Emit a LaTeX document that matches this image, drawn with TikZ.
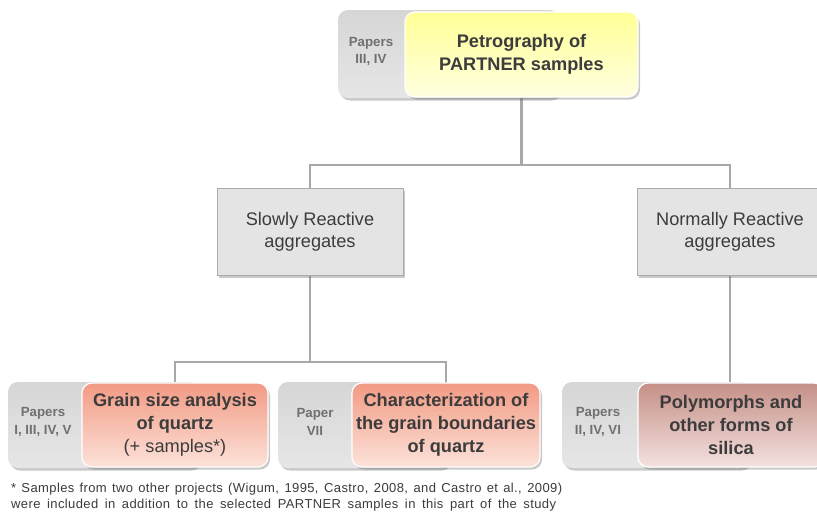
\documentclass[tikz,border=0pt]{standalone}
\usepackage{fontspec}
\setmainfont{Liberation Sans}
\newfontfamily\fnfont[LetterSpace=3]{Liberation Sans}
\usetikzlibrary{shadows}
\definecolor{txt}{HTML}{3C3C3C}
\definecolor{ptxt}{HTML}{707070}
\definecolor{conncol}{HTML}{A8A8A8}
\definecolor{backA}{HTML}{D6D6D6}
\definecolor{backB}{HTML}{E6E6E6}
\definecolor{yelA}{HTML}{FFFF96}
\definecolor{yelB}{HTML}{FFFFE0}
\definecolor{salA}{HTML}{F29A84}
\definecolor{salB}{HTML}{FCE2D9}
\definecolor{brnA}{HTML}{C58F87}
\definecolor{brnB}{HTML}{F3E2DF}
\definecolor{midfill}{HTML}{E4E4E4}
\definecolor{midline}{HTML}{ABABAB}
\tikzset{
  shad/.style={drop shadow={shadow xshift=2pt,shadow yshift=-2.5pt,opacity=0.35,fill=black!60}},
  backbox/.style={rounded corners=10pt,top color=backA,bottom color=backB,shad,inner sep=0pt},
  colbox/.style={rounded corners=10pt,draw=white,line width=1.2pt,shad,inner sep=0pt,align=center,text=txt,
     font=\fontsize{18.2}{23}\selectfont\bfseries},
  midbox/.style={draw=midline,line width=0.8pt,fill=midfill,shad,inner sep=0pt,align=center,text=txt,
     minimum width=186pt,minimum height=87pt,font=\fontsize{18.2}{22.5}\selectfont},
  ptext/.style={align=center,text=ptxt,font=\fontsize{13.3}{17.5}\selectfont\bfseries,inner sep=0pt},
  conn/.style={draw=conncol,line width=2.5pt},
  fntext/.style={anchor=west,inner sep=0pt,text=txt,font=\fnfont\fontsize{13}{17}\selectfont},
}
\begin{document}
\begin{tikzpicture}[x=1pt,y=-1pt]
\useasboundingbox (0,0) rectangle (817,512);
\fill[white] (0,0) rectangle (817,512);

% connectors
\coordinate (j1) at (521.5,165);
\coordinate (j2) at (310,362);
\node[inner sep=0pt,minimum width=233pt,minimum height=85pt] (topc) at (521.5,54.5) {};
\node[inner sep=0pt,minimum width=186pt,minimum height=87pt] (slowc) at (310,232) {};
\node[inner sep=0pt,minimum width=186pt,minimum height=87pt] (normc) at (730,232) {};
\node[inner sep=0pt,minimum width=186pt,minimum height=84pt] (grainc) at (175,425) {};
\node[inner sep=0pt,minimum width=188pt,minimum height=84pt] (charc) at (446,425) {};
\node[inner sep=0pt,minimum width=186pt,minimum height=84pt] (polyc) at (730,425) {};
\draw[conn] (topc.south) -- (j1);
\draw[conn] (slowc.north) |- (j1) -| (normc.north);
\draw[conn] (slowc.south) -- (j2);
\draw[conn] (grainc.north) |- (j2) -| (charc.north);
\draw[conn] (normc.south) -- (polyc.north);

% top
\node[backbox,minimum width=222pt,minimum height=88pt] (topback) at (449,54) {};
\node[ptext] (toppap) at (371,51.5) {Papers\\III, IV};
\node[colbox,top color=yelA,bottom color=yelB,minimum width=233pt,minimum height=85pt] (top) at (521.5,54.5) {Petrography of\\PARTNER samples};

% middle
\node[midbox] (slow) at (310,232) {Slowly Reactive\\aggregates};
\node[midbox] (norm) at (730,232) {Normally Reactive\\aggregates};

% bottom left
\node[backbox,minimum width=192pt,minimum height=86pt] (grainback) at (104,425) {};
\node[ptext] (grainpap) at (43,422) {Papers\\I, III, IV, V};
\node[colbox,top color=salA,bottom color=salB,minimum width=186pt,minimum height=84pt] (grain) at (175,425)
  {Grain size analysis\\of quartz\\\mdseries(+ samples*)};

% bottom middle
\node[backbox,minimum width=172pt,minimum height=86pt] (charback) at (364,425) {};
\node[ptext] (charpap) at (315,422) {Paper\\VII};
\node[colbox,top color=salA,bottom color=salB,minimum width=188pt,minimum height=84pt] (char) at (446,425)
  {Characterization of\\the grain boundaries\\of quartz};

% bottom right
\node[backbox,minimum width=188pt,minimum height=86pt] (polyback) at (656,425) {};
\node[ptext] (polypap) at (598,422) {Papers\\II, IV, VI};
\node[colbox,top color=brnA,bottom color=brnB,minimum width=186pt,minimum height=84pt] (poly) at (731,425)
  {Polymorphs and\\other forms of\\silica};

% footnote
\node[fntext] (fn1) at (11,489.5)
  {\makebox[551pt][s]{* Samples from two other projects (Wigum, 1995, Castro, 2008, and Castro et al., 2009)}};
\node[fntext] (fn2) at (11,505)
  {\makebox[545pt][s]{were included in addition to the selected PARTNER samples in this part of the study}};
\end{tikzpicture}
\end{document}
